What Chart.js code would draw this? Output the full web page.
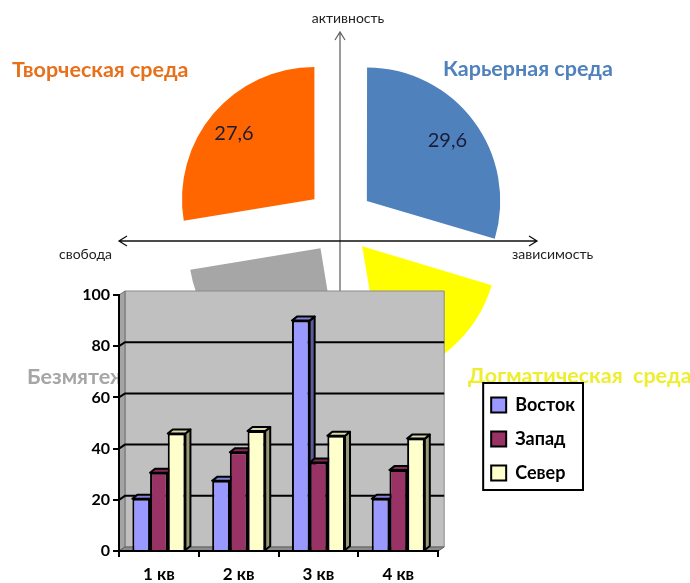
<!DOCTYPE html>
<html>
<head>
<meta charset="utf-8">
<script src="https://cdn.jsdelivr.net/npm/chart.js@4.4.1/dist/chart.umd.min.js"></script>
<style>
  html, body { margin: 0; padding: 0; background: #fff; overflow: hidden; }
  #wrap { position: relative; width: 690px; height: 583px; }
  #wrap canvas { position: absolute; left: 0; }
  #pie { top: 0; }
  #bars { top: 280px; }
</style>
</head>
<body>
<div id="wrap">
  <canvas id="pie" width="690" height="583"></canvas>
  <canvas id="bars" width="690" height="303"></canvas>
</div>
<script>
// quadrant pie
var sectors = ['Карьерная среда', 'Догматическая  среда', 'Безмятежная среда', 'Творческая среда'];
var shares = [29.6, 17.8, 25.0, 27.6];
var sectorColors = ['#4f81bd', '#ffff00', '#a6a6a6', '#ff6600'];
var titleColors = ['#4f81bd', '#eeee30', '#a6a6a6', '#e8701a'];
var axisNames = ['активность', 'свобода', 'зависимость'];

// bar chart
var quarters = ['1 кв', '2 кв', '3 кв', '4 кв'];
var seriesNames = ['Восток', 'Запад', 'Север'];
var east = [20.4, 27.4, 90, 20.4];
var west = [30.6, 38.6, 34.6, 31.6];
var north = [45.9, 46.9, 45, 43.9];
var barColors = ['#9999ff', '#993366', '#ffffcc'];

Chart.defaults.font.family = 'Lato';

function shade(hex, f) {
  var n = parseInt(hex.slice(1), 16);
  return 'rgb(' + Math.round((n >> 16 & 255) * f) + ',' + Math.round((n >> 8 & 255) * f) + ',' + Math.round((n & 255) * f) + ')';
}

function poly(ctx, pts, fill, stroke, lw) {
  ctx.beginPath();
  ctx.moveTo(pts[0][0], pts[0][1]);
  for (var i = 1; i < pts.length; i++) ctx.lineTo(pts[i][0], pts[i][1]);
  ctx.closePath();
  if (fill) { ctx.fillStyle = fill; ctx.fill(); }
  if (stroke) { ctx.strokeStyle = stroke; ctx.lineWidth = lw || 1; ctx.stroke(); }
}

// where the sector titles go (left x, baseline y)
var titlePos = [[443, 76], [468, 383], [27, 384], [12, 77]];

var quadrantPlugin = {
  id: 'quadrant',
  beforeDatasetsDraw: function(chart) {
    var ctx = chart.ctx, a = chart.chartArea;
    var cx = (a.left + a.right) / 2, hy = (a.top + a.bottom) / 2 + 20;
    ctx.save();
    // vertical axis
    ctx.strokeStyle = '#666';
    ctx.lineWidth = 1.3;
    ctx.beginPath();
    ctx.moveTo(cx, 32); ctx.lineTo(cx, 470);
    ctx.moveTo(cx - 5, 40); ctx.lineTo(cx, 32); ctx.lineTo(cx + 5, 40);
    ctx.stroke();
    // horizontal axis
    ctx.strokeStyle = '#111';
    ctx.beginPath();
    ctx.moveTo(119, hy); ctx.lineTo(537, hy);
    ctx.moveTo(127, hy - 5); ctx.lineTo(119, hy); ctx.lineTo(127, hy + 5);
    ctx.moveTo(529, hy - 5); ctx.lineTo(537, hy); ctx.lineTo(529, hy + 5);
    ctx.stroke();
    ctx.fillStyle = '#222';
    ctx.font = '14px Lato';
    ctx.textBaseline = 'middle';
    ctx.textAlign = 'center';
    ctx.fillText(axisNames[0], cx + 8, 18);
    ctx.textAlign = 'left';
    ctx.fillText(axisNames[1], 59, hy + 13);
    ctx.fillText(axisNames[2], 512, hy + 13);
    ctx.restore();
  },
  afterDatasetsDraw: function(chart) {
    var ctx = chart.ctx;
    var meta = chart.getDatasetMeta(0);
    ctx.save();
    ctx.font = '20px Lato';
    ctx.fillStyle = '#1c1c38';
    ctx.textAlign = 'center';
    ctx.textBaseline = 'middle';
    meta.data.forEach(function(arc, i) {
      var mid = (arc.startAngle + arc.endAngle) / 2;
      // the lower half of the quadrant is hidden under the bar chart
      if (Math.sin(mid) > 0) return;
      var r = arc.options.offset / 4 + 0.78 * arc.outerRadius;
      ctx.fillText(shares[i].toFixed(1).replace('.', ','), arc.x + Math.cos(mid) * r - 2, arc.y + Math.sin(mid) * r + 1);
    });
    ctx.font = 'bold 21.5px Lato';
    ctx.textAlign = 'left';
    ctx.textBaseline = 'alphabetic';
    sectors.forEach(function(name, i) {
      ctx.fillStyle = titleColors[i];
      ctx.fillText(name, titlePos[i][0], titlePos[i][1]);
    });
    ctx.restore();
  }
};

var bar3dPlugin = {
  id: 'bar3d',
  beforeDraw: function(chart) {
    var ctx = chart.ctx, a = chart.chartArea, y = chart.scales.y;
    var L = a.left, R = a.right, T = a.top, B = a.bottom, dx = 6, dy = -4;
    ctx.save();
    // walls
    poly(ctx, [[L + dx, T + dy], [R + dx, T + dy], [R + dx, B + dy], [L + dx, B + dy]], '#c0c0c0', '#8a8a8a', 1);
    poly(ctx, [[L, T], [L + dx, T + dy], [L + dx, B + dy], [L, B]], '#a4a4a4', '#707070', 1);
    poly(ctx, [[L, B], [L + dx, B + dy], [R + dx, B + dy], [R, B]], '#8c8c8c', '#606060', 1);
    // gridlines on the back wall
    ctx.strokeStyle = '#000';
    ctx.lineWidth = 2;
    y.ticks.forEach(function(t) {
      if (t.value <= y.min || t.value >= y.max) return;
      var py = y.getPixelForValue(t.value);
      ctx.beginPath();
      ctx.moveTo(L, py); ctx.lineTo(L + dx, py + dy); ctx.lineTo(R + dx, py + dy);
      ctx.stroke();
    });
    // legend frame
    var hb = chart.legend.legendHitBoxes;
    if (hb && hb.length) {
      var x0 = Infinity, y0 = Infinity, x1 = -Infinity, y1 = -Infinity;
      hb.forEach(function(h) {
        x0 = Math.min(x0, h.left); y0 = Math.min(y0, h.top);
        x1 = Math.max(x1, h.left + h.width); y1 = Math.max(y1, h.top + h.height);
      });
      x0 -= 8; y0 -= 13; x1 += 8; y1 += 8;
      ctx.fillStyle = '#fff';
      ctx.fillRect(x0, y0, x1 - x0, y1 - y0);
      ctx.strokeStyle = '#000';
      ctx.strokeRect(x0, y0, x1 - x0, y1 - y0);
    }
    ctx.restore();
  },
  beforeDatasetsDraw: function(chart) {
    var ctx = chart.ctx, dx = 5, dy = -4;
    ctx.save();
    ctx.lineJoin = 'round';
    for (var j = 0; j < chart.data.labels.length; j++) {
      chart.data.datasets.forEach(function(ds, i) {
        var b = chart.getDatasetMeta(i).data[j];
        var l = b.x - b.width / 2, r = b.x + b.width / 2, t = b.y, base = b.base;
        poly(ctx, [[r, t], [r + dx, t + dy], [r + dx, base + dy], [r, base]], shade(barColors[i], 0.6), '#000', 2);
        poly(ctx, [[l, t], [l + dx, t + dy], [r + dx, t + dy], [r, t]], shade(barColors[i], 0.85), '#000', 2);
      });
    }
    ctx.restore();
  }
};

function draw() {
  new Chart(document.getElementById('pie'), {
    type: 'pie',
    data: {
      labels: sectors,
      datasets: [{
        data: shares,
        backgroundColor: sectorColors,
        borderWidth: 0,
        offset: 134
      }]
    },
    options: {
      responsive: false,
      animation: false,
      events: [],
      radius: 132,
      layout: { padding: { left: 0, right: 10, top: 0, bottom: 141 } },
      plugins: { legend: { display: false }, tooltip: { enabled: false } }
    },
    plugins: [quadrantPlugin]
  });

  new Chart(document.getElementById('bars'), {
    type: 'bar',
    data: {
      labels: quarters,
      datasets: [east, west, north].map(function(d, i) {
        return {
          label: seriesNames[i],
          data: d,
          backgroundColor: barColors[i],
          borderColor: '#000',
          borderWidth: 2
        };
      })
    },
    options: {
      responsive: false,
      animation: false,
      events: [],
      layout: { padding: { left: 60, top: 15, right: 105, bottom: 0 } },
      datasets: { bar: { barPercentage: 1, categoryPercentage: 0.665 } },
      plugins: {
        tooltip: { enabled: false },
        legend: {
          position: 'right',
          maxWidth: 140,
          labels: { boxWidth: 15, boxHeight: 15, padding: 16, color: '#000', font: { size: 18, weight: 'bold' } }
        }
      },
      scales: {
        x: {
          grid: { offset: true, drawOnChartArea: false, color: '#000', lineWidth: 2, tickLength: 6 },
          border: { color: '#000', width: 2 },
          ticks: { color: '#000', padding: 7, font: { size: 17, weight: 'bold' } },
          afterFit: function(s) { s.height = 32; }
        },
        y: {
          min: 0,
          max: 100,
          grid: { drawOnChartArea: false, color: '#000', lineWidth: 2, tickLength: 6 },
          border: { color: '#000', width: 2 },
          ticks: { stepSize: 20, color: '#000', padding: 3, font: { size: 16, weight: 'bold' } },
          afterFit: function(s) { s.width = 59; }
        },
        y2: {
          position: 'right',
          grid: { display: false },
          border: { display: false },
          ticks: { display: false },
          afterFit: function(s) { s.width = 37; }
        }
      }
    },
    plugins: [bar3dPlugin]
  });
}

Promise.all([
  document.fonts.load('14px Lato'),
  document.fonts.load('bold 18px Lato')
]).then(draw, draw);
</script>
</body>
</html>
